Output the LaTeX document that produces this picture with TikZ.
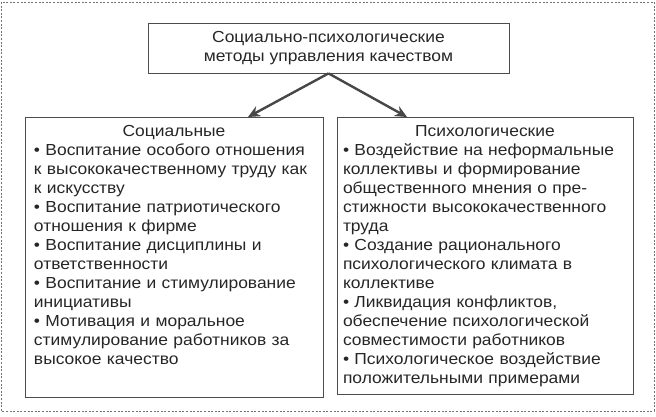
\documentclass[tikz,border=0pt]{standalone}
\usepackage{fontspec}
\setmainfont[FakeStretch=1.09]{Liberation Sans}
\usepackage{xcolor}
\usepackage{tikz}
\usetikzlibrary{positioning,arrows.meta}

\begin{document}
\begin{tikzpicture}[x=1pt, y=1pt, font=\fontsize{16}{19}\selectfont, text=black!85]
    % Define styles
    \tikzstyle{frame} = [draw=black!55, line width=0.6pt, dash pattern=on 2pt off 1.6pt]
    \tikzstyle{head} = [rectangle, minimum width=361pt, minimum height=50pt, align=center, draw=black!70, line width=0.8pt]
    \tikzstyle{group} = [rectangle, anchor=north, inner ysep=7pt, text height=12pt, align=left, draw=black!70, line width=0.8pt]
    \tikzstyle{arrow} = [line width=2.4pt, draw=black!72, ->, >={Stealth[length=12pt,width=11pt]}]

    % Frame
    \useasboundingbox (0,0) rectangle (656,-417);
    \draw [frame] (1,-2) rectangle (654,-411);

    % Nodes
    \node [head] (methods) at (328.5,-48) {Социально-психологические\\методы управления качеством};
    \node [group, text width=280pt, inner xsep=9pt, text depth=254pt] (social) at (174,-117) {{\centering Социальные\par}
        \textbullet\ Воспитание особого отношения\\
        к высококачественному труду как\\
        к искусству\\
        \textbullet\ Воспитание патриотического\\
        отношения к фирме\\
        \textbullet\ Воспитание дисциплины и\\
        ответственности\\
        \textbullet\ Воспитание и стимулирование\\
        инициативы\\
        \textbullet\ Мотивация и моральное\\
        стимулирование работников за\\
        высокое качество};
    \node [group, text width=284pt, inner xsep=6pt, text depth=251pt] (psycho) at (485,-117) {{\centering Психологические\par}
        \textbullet\ Воздействие на неформальные\\
        коллективы и формирование\\
        общественного мнения о пре-\\
        стижности высококачественного\\
        труда\\
        \textbullet\ Создание рационального\\
        психологического климата в\\
        коллективе\\
        \textbullet\ Ликвидация конфликтов,\\
        обеспечение психологической\\
        совместимости работников\\
        \textbullet\ Психологическое воздействие\\
        положительными примерами};

    % Arrows
    \draw [arrow] (methods.south) -- ([xshift=74pt]social.north);
    \draw [arrow] (methods.south) -- ([xshift=-78pt]psycho.north);
\end{tikzpicture}
\end{document}
